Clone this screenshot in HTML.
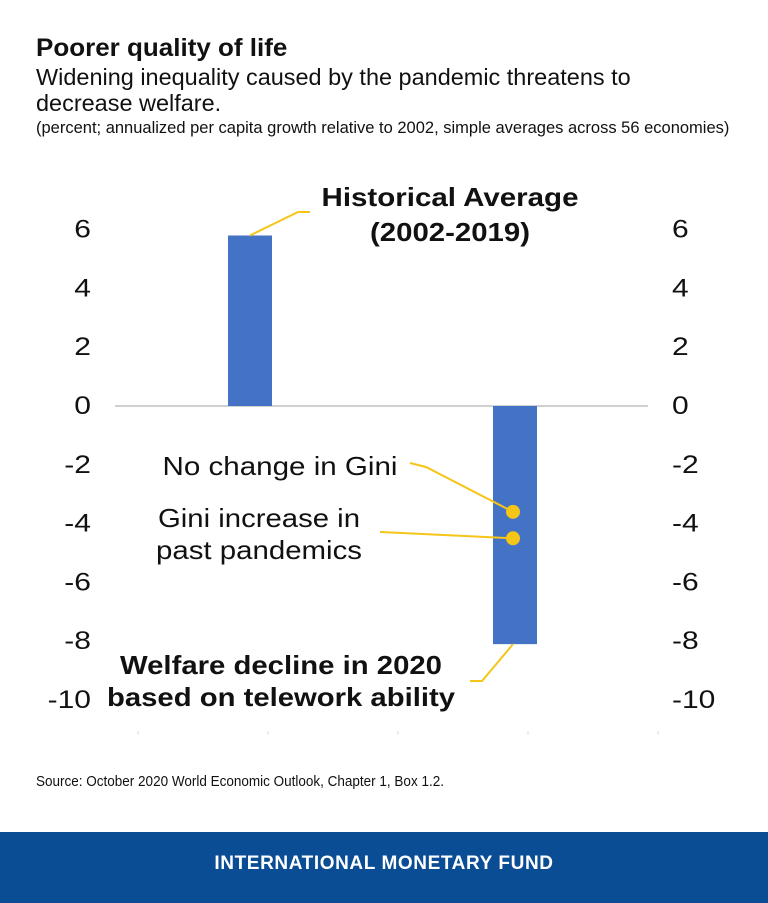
<!DOCTYPE html>
<html><head><meta charset="utf-8"><style>
body{margin:0;width:768px;height:903px;background:#fff;font-family:"Liberation Sans",sans-serif;position:relative;overflow:hidden}
.t{position:absolute;left:36px;white-space:nowrap;color:#111}
</style></head><body>
<div class="t" style="top:34px;font-size:25px;font-weight:bold;transform:scaleX(1.04);transform-origin:left">Poorer quality of life</div>
<div class="t" style="top:64px;font-size:23px;line-height:26px;transform:scaleX(1.02);transform-origin:left">Widening inequality caused by the pandemic threatens to<br>decrease welfare.</div>
<div class="t" style="top:119px;font-size:16.5px">(percent; annualized per capita growth relative to 2002, simple averages across 56 economies)</div>
<svg id="chart" width="768" height="760" style="position:absolute;left:0;top:0"></svg>
<div class="t" style="top:773px;font-size:15px;transform:scaleX(0.9);transform-origin:left">Source: October 2020 World Economic Outlook, Chapter 1, Box 1.2.</div>
<div style="position:absolute;left:0;top:832px;width:768px;height:71px;background:#0a4d94;color:#fff;font-weight:bold;font-size:19px;letter-spacing:0.6px;text-align:center;line-height:64px">INTERNATIONAL MONETARY FUND</div>
<script>
const ticks=[6,4,2,0,-2,-4,-6,-8,-10];
const categories=["Historical Average (2002-2019)","Welfare decline in 2020"];
const barValues=[5.8,-8.1];
const dotLabels=["No change in Gini","Gini increase in past pandemics"];
const dotValues=[-3.6,-4.5];
const NS="http://www.w3.org/2000/svg";
const svg=document.getElementById('chart');
const y=v=>406-v*29.4;
const barX=[250,515];
function mk(tag,attrs,parent){const e=document.createElementNS(NS,tag);for(const k in attrs)e.setAttribute(k,attrs[k]);(parent||svg).appendChild(e);return e;}
ticks.forEach(t=>{
 const a=mk('text',{x:91,y:y(t)+8,'text-anchor':'end','font-size':25,fill:'#111',transform:'translate(91,0) scale(1.2,1) translate(-91,0)'});a.textContent=t;
 
 
 const b=mk('text',{x:672,y:y(t)+8,'font-size':25,fill:'#111',transform:'translate(672,0) scale(1.2,1) translate(-672,0)'});b.textContent=t;
 
 
});
const base=mk('line',{x1:115,x2:648,y1:y(0),y2:y(0),stroke:'#d0d0d0','stroke-width':2});


[138,268,398,528,658].forEach(x=>{const l=mk('line',{x1:x,x2:x,y1:731,y2:735,stroke:'#ddd','stroke-width':1});
 
 });
barValues.forEach((v,i)=>{
 const r=mk('rect',{x:barX[i]-22,y:Math.min(y(v),y(0)),width:44,height:Math.abs(y(v)-y(0)),fill:'#4472c4'});
 
 
});
const Y='#f5c518';
function pl(pts,name){const p=mk('polyline',{points:pts.map(p=>p.join(',')).join(' '),fill:'none',stroke:Y,'stroke-width':2});
 
 }
pl([[250,y(barValues[0])],[298,212],[310,212]],'leader-historical');
pl([[513,y(barValues[1])],[482,681],[470,681]],'leader-welfare');
pl([[410,463],[426,467],[barX[1]-2,y(dotValues[0])]],'leader-no-change');
pl([[380,532],[barX[1]-2,y(dotValues[1])]],'leader-gini-increase');
dotValues.forEach((v,i)=>{const c=mk('circle',{cx:barX[1]-2,cy:y(v),r:7,fill:Y});
 
 });
function txt(lines,widths,x,y0,lh,bold,name){const t=mk('text',{x:x,y:y0,'text-anchor':'middle','font-size':26,'font-weight':bold?'bold':'normal',fill:'#111'});
 lines.forEach((s,i)=>{const ts=mk('tspan',{x:x,dy:i?lh:0,textLength:widths[i],lengthAdjust:'spacingAndGlyphs'},t);ts.textContent=s;});
 
 }
txt(['Historical Average','(2002-2019)'],[257,160],450,206,35,true,'label-historical');
txt(['Welfare decline in 2020','based on telework ability'],[322,348],281,674,32,true,'label-welfare');
txt(['No change in Gini'],[235],280,475,0,false,'label-no-change');
txt(['Gini increase in','past pandemics'],[202,206],259,527,32,false,'label-gini-increase');
</script>
</body></html>
